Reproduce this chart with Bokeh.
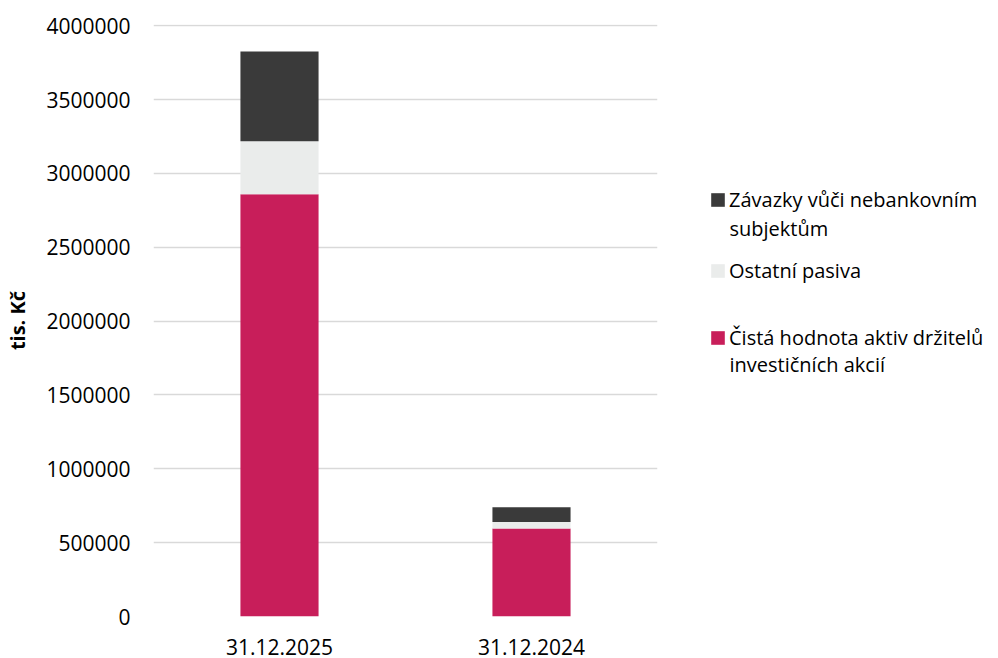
from bokeh.plotting import figure
from bokeh.layouts import row
from bokeh.models import (FactorRange, Range1d, Legend, LegendItem, Label,
                          NumeralTickFormatter, FixedTicker, ColumnDataSource)
from bokeh.embed import file_html
from bokeh.resources import INLINE

# ---- data ----
dates = ["31.12.2025", "31.12.2024"]
cista_hodnota = [2858000, 596000]      # Čistá hodnota aktiv držitelů investičních akcií
ostatni_pasiva = [360000, 43000]       # Ostatní pasiva
zavazky = [607000, 101000]             # Závazky vůči nebankovním subjektům
y_ticks = [0, 500000, 1000000, 1500000, 2000000, 2500000, 3000000, 3500000, 4000000]

series_keys = ["cista", "ostatni", "zavazky"]
series_colors = ["#C81E5A", "#EAECEB", "#3A3A3A"]
legend_first = ["Čistá hodnota aktiv držitelů", "Ostatní pasiva", "Závazky vůči nebankovním"]
legend_second = ["investičních akcií", "", "subjektům"]

FONT = "Open Sans"

source = ColumnDataSource(dict(date=dates, cista=cista_hodnota,
                               ostatni=ostatni_pasiva, zavazky=zavazky))

p = figure(x_range=FactorRange(*dates), y_range=Range1d(0, 4008000),
           width=680, height=658, output_backend="svg", toolbar_location=None,
           min_border_left=153, min_border_right=23, min_border_top=24,
           min_border_bottom=42)
p.outline_line_color = None
p.background_fill_color = "white"

renderers = p.vbar_stack(series_keys, x="date", width=0.31, color=series_colors,
                         line_color=None, source=source)

# grid
p.xgrid.grid_line_color = None
p.ygrid.grid_line_color = "#D9D9D9"
p.ygrid.grid_line_width = 1.5

# y axis
p.yaxis.ticker = FixedTicker(ticks=y_ticks)
p.yaxis.formatter = NumeralTickFormatter(format="0")
p.yaxis.axis_line_color = None
p.yaxis.major_tick_line_color = None
p.yaxis.minor_tick_line_color = None
p.yaxis.major_tick_out = 0
p.yaxis.major_label_standoff = 23
p.yaxis.major_label_text_font = FONT
p.yaxis.major_label_text_font_size = "21px"
p.yaxis.major_label_text_color = "#000000"
p.yaxis.axis_label = "tis. Kč"
p.yaxis.axis_label_text_font = FONT
p.yaxis.axis_label_text_font_size = "20px"
p.yaxis.axis_label_text_font_style = "bold"
p.yaxis.axis_label_text_color = "#000000"
p.yaxis.axis_label_standoff = 12

# x axis
p.xaxis.axis_line_color = None
p.xaxis.major_tick_line_color = None
p.xaxis.major_tick_out = 0
p.xaxis.major_label_standoff = 22
p.xaxis.major_label_text_font = FONT
p.xaxis.major_label_text_font_size = "21px"
p.xaxis.major_label_text_color = "#000000"

# ---- legend panel (separate figure so nothing is clipped) ----
lp = figure(width=318, height=658, output_backend="svg", toolbar_location=None,
            x_range=FactorRange(*dates), y_range=Range1d(-2, -1),
            x_axis_location=None, y_axis_location=None,
            min_border_left=0, min_border_right=0, min_border_top=0, min_border_bottom=0)
lp.outline_line_color = None
lp.xgrid.grid_line_color = None
lp.ygrid.grid_line_color = None
# same stacked series (zero width, outside the visible range) used only as legend glyphs
legend_renderers = lp.vbar_stack(series_keys, x="date", width=0.0, color=series_colors,
                                 line_color=None, source=source)

legend_y = [263.4, 330.4, 401.6]   # bottom of each legend block, screen px from bottom
second_y = [251.7, None, 388.0]    # baseline of second label line
for r, first, second, ly, sy in zip(legend_renderers, legend_first, legend_second,
                                    legend_y, second_y):
    lg = Legend(items=[LegendItem(label=first, renderers=[r])], location=(29, ly),
                padding=0, margin=0, spacing=0, glyph_width=17, glyph_height=17,
                label_standoff=3, label_height=30,
                label_text_font=FONT, label_text_font_size="20px",
                label_text_color="#000000",
                border_line_color=None, background_fill_alpha=0)
    lp.add_layout(lg, "center")
    if second:
        lp.add_layout(Label(x=49, y=sy, x_units="screen", y_units="screen", text=second,
                            text_font=FONT, text_font_size="20px", text_color="#000000",
                            text_baseline="alphabetic", text_align="left"))

layout = row(p, lp)
open("out.html", "w").write(file_html(layout, INLINE))
